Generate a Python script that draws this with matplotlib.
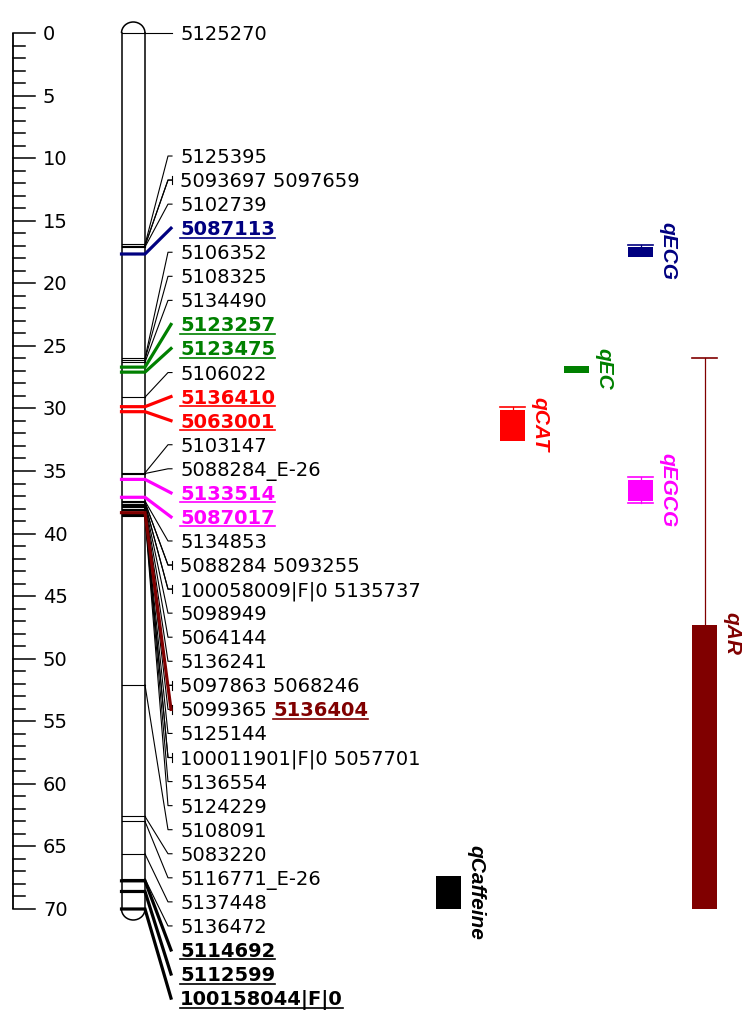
import matplotlib
matplotlib.use("Agg")
import matplotlib.pyplot as plt
from matplotlib.patches import Rectangle, Arc

# Marker labels on the linkage group, one row each; several markers can share a row
label_markers = [
    ["5125270"], ["5125395"], ["5093697", "5097659"], ["5102739"], ["5087113"],
    ["5106352"], ["5108325"], ["5134490"], ["5123257"], ["5123475"],
    ["5106022"], ["5136410"], ["5063001"], ["5103147"], ["5088284_E-26"],
    ["5133514"], ["5087017"], ["5134853"], ["5088284", "5093255"],
    ["100058009|F|0", "5135737"], ["5098949"], ["5064144"], ["5136241"],
    ["5097863", "5068246"], ["5099365", "5136404"], ["5125144"],
    ["100011901|F|0", "5057701"], ["5136554"], ["5124229"], ["5108091"],
    ["5083220"], ["5116771_E-26"], ["5137448"], ["5136472"], ["5114692"],
    ["5112599"], ["100158044|F|0"],
]
# Map positions (cM) of the markers above
label_positions = [
    [0.0], [16.9], [17.0, 17.0], [17.1], [17.66],
    [26.0], [26.1], [26.3], [26.7], [27.1],
    [29.1], [29.86], [30.26], [35.15], [35.2],
    [35.67], [37.1], [37.4], [37.5, 37.5],
    [37.6, 37.6], [37.7], [37.8], [37.9],
    [38.0, 38.0], [38.1, 38.33], [38.4],
    [38.5, 38.5], [38.5], [38.6], [52.1],
    [62.6], [63.0], [65.6], [67.6], [67.75],
    [68.6], [70.0],
]
# Markers linked to a QTL, drawn bold and underlined in the trait colour
highlight = {
    "5087113": "#000080",
    "5123257": "#008000", "5123475": "#008000",
    "5136410": "#ff0000", "5063001": "#ff0000",
    "5133514": "#ff00ff", "5087017": "#ff00ff",
    "5136404": "#800000",
    "5114692": "black", "5112599": "black", "100158044|F|0": "black",
}

# QTL intervals (cM): outer support interval and inner box
qtl_names = ["qECG", "qEC", "qCAT", "qEGCG", "qAR", "qCaffeine"]
qtl_outer_start = [16.94, 26.6, 29.9, 35.5, 26.0, 67.4]
qtl_inner_start = [17.14, 26.6, 30.12, 35.7, 47.3, 67.4]
qtl_inner_end = [17.88, 27.15, 32.6, 37.38, 70.0, 70.0]
qtl_outer_end = [17.88, 27.15, 32.6, 37.58, 70.0, 70.0]
qtl_column = [3, 2, 1, 3, 4, 0]
qtl_colors = ["#000080", "#008000", "#ff0000", "#ff00ff", "#800000", "black"]

map_length = 70

# layout in pixels
PX_PER_CM = 876 / 70
TOP_PX = 33
CHR_LEFT, CHR_RIGHT = 121.5, 145.0
LABEL_X = 180
ROW_STEP = 24.06 / PX_PER_CM
FIRST_ROW = 9.83
QTL_X0, QTL_STEP, QTL_W = 436, 64, 25

def px(n):
    return n / PX_PER_CM

plt.rcParams['font.family'] = ['DejaVu Sans']
LABEL_SIZE = 14

fig = plt.figure(figsize=(7.45, 10.15), dpi=100)
ax = fig.add_axes([0, 0, 1, 1])
ax.set_xlim(0, 745)
ax.set_ylim(px(1015 - TOP_PX), px(-TOP_PX))
ax.axis('off')
renderer = fig.canvas.get_renderer()

# cM ruler
ax.plot([13, 13], [0, map_length], color='black', lw=1.3, solid_capstyle='butt')
for cm in range(map_length + 1):
    major = cm % 5 == 0
    ax.plot([13, 35 if major else 25], [cm, cm], color='black', lw=1.1)
    if major:
        ax.text(43, cm + px(7), str(cm), fontsize=LABEL_SIZE, ha='left', va='baseline')

# chromosome outline with rounded ends
cx = (CHR_LEFT + CHR_RIGHT) / 2
ax.plot([CHR_LEFT, CHR_LEFT], [0, map_length], color='black', lw=1.1)
ax.plot([CHR_RIGHT, CHR_RIGHT], [0, map_length], color='black', lw=1.1)
ax.add_patch(Arc((cx, 0), CHR_RIGHT - CHR_LEFT, px(22), theta1=180, theta2=360, color='black', lw=1.1))
ax.add_patch(Arc((cx, map_length), CHR_RIGHT - CHR_LEFT, px(22), theta1=0, theta2=180, color='black', lw=1.1))

label_rows = [label_positions[0][0]] + [FIRST_ROW + i * ROW_STEP for i in range(len(label_markers) - 1)]

def text_width(s, weight):
    t = ax.text(0, 0, s, fontsize=LABEL_SIZE, fontweight=weight)
    w = t.get_window_extent(renderer).width
    t.remove()
    return w

space_w = text_width("5 5", 'normal') - text_width("55", 'normal')

for names, poss, ly in zip(label_markers, label_positions, label_rows):
    for name, p in zip(names, poss):
        col = highlight.get(name)
        if col:
            ax.plot([CHR_LEFT, CHR_RIGHT, 171], [p, p, ly], color=col, lw=2.3,
                    solid_joinstyle='miter', zorder=4)
        else:
            ax.plot([CHR_LEFT, CHR_RIGHT], [p, p], color='black', lw=0.8, zorder=3)
            ax.plot([CHR_RIGHT, 168, 172], [p, ly, ly], color='black', lw=0.8, zorder=3)
    if len(names) > 1:
        ax.plot([172, 172], [ly - 0.35, ly + 0.35], color='black', lw=0.8)

    # label text, highlighted names drawn separately so they can be underlined
    base = ly + px(7)
    x = LABEL_X
    plain = [n for n in names if n not in highlight]
    if len(plain) == len(names):
        ax.text(x, base, " ".join(names), fontsize=LABEL_SIZE, ha='left', va='baseline')
        continue
    for name in names:
        col = highlight.get(name, 'black')
        weight = 'bold' if name in highlight else 'normal'
        t = ax.text(x, base, name, fontsize=LABEL_SIZE, ha='left', va='baseline',
                    color=col, fontweight=weight)
        w = t.get_window_extent(renderer).width
        if name in highlight:
            ax.plot([x, x + w], [base + px(2.5), base + px(2.5)], color=col, lw=1.2)
        x += w + space_w

# QTL bars with support intervals
for name, a, b, c, d, col, colr in zip(qtl_names, qtl_outer_start, qtl_inner_start,
                                       qtl_inner_end, qtl_outer_end, qtl_column, qtl_colors):
    x0 = QTL_X0 + col * QTL_STEP
    xm = x0 + QTL_W / 2
    ax.add_patch(Rectangle((x0, b), QTL_W, c - b, facecolor=colr, edgecolor='none'))
    if a < b:
        ax.plot([xm, xm], [a, b], color=colr, lw=0.9)
        ax.plot([x0, x0 + QTL_W], [a, a], color=colr, lw=1.2)
    if d > c:
        ax.plot([xm, xm], [c, d], color=colr, lw=0.9)
        ax.plot([x0, x0 + QTL_W], [d, d], color=colr, lw=1.2)
    ax.text(x0 + QTL_W + 5, (a + d) / 2, name, rotation=270, ha='left', va='center',
            color=colr, fontsize=15, fontweight='bold', fontstyle='italic',
            family=['Liberation Sans', 'DejaVu Sans'])

fig.savefig("out.png", dpi=100)
